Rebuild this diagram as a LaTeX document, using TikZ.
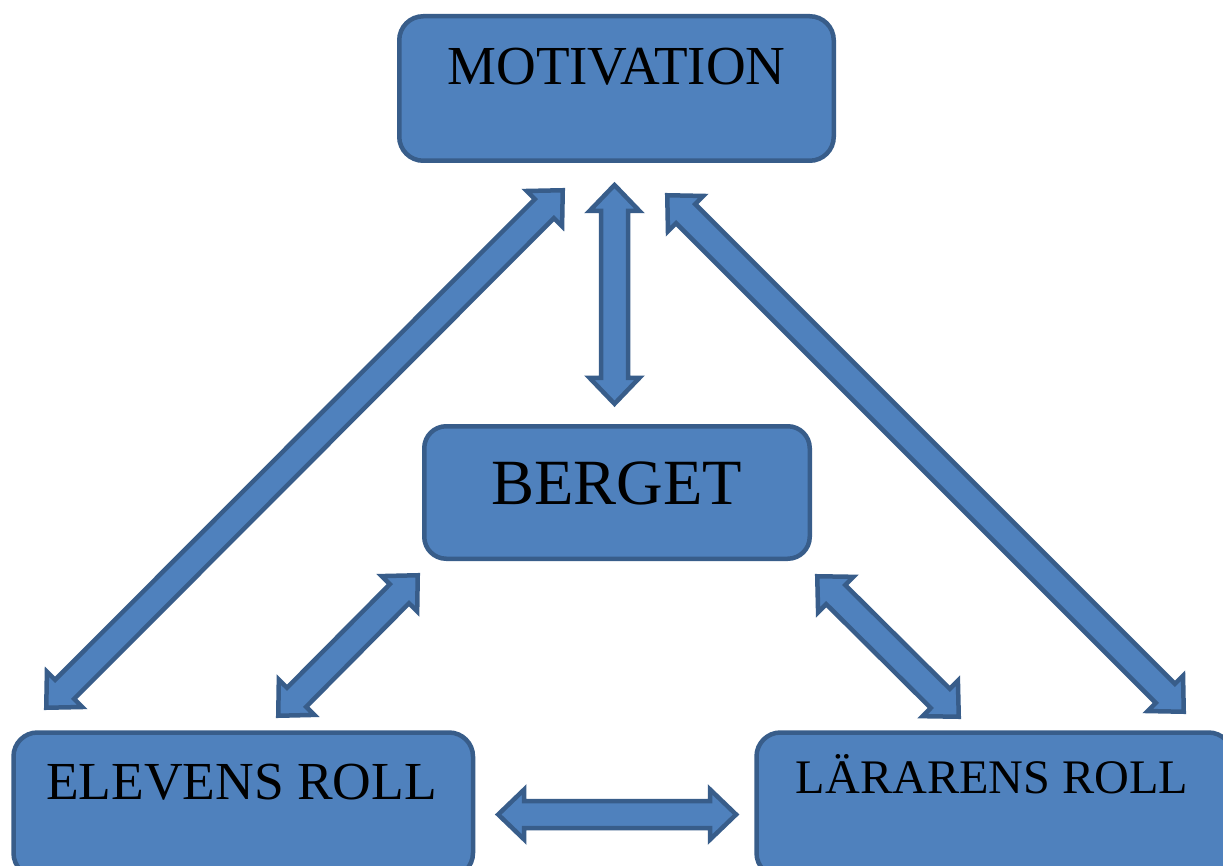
\documentclass[tikz,border=0pt]{standalone}
\usepackage{fontspec}
\setmainfont{Liberation Serif}
\usetikzlibrary{calc}
\definecolor{boxfill}{HTML}{4F81BD}
\definecolor{boxline}{HTML}{385D8A}
\tikzset{
  rbox/.style={draw=boxline, fill=boxfill, line width=4.5pt, rounded corners=24pt, inner sep=0pt, rectangle},
  lbl/.style={inner sep=0pt, anchor=base, text=black},
  barrow/.style={draw=boxline, fill=boxfill, line width=4.5pt, line join=miter, miter limit=10}
}
% double block arrow between two named tips
\newcommand\blockarrow[2]{%
  \draw[barrow] (#1)
   -- ($($(#1)!26pt!(#2)$)!25pt!90:(#2)$)
   -- ($($(#1)!26pt!(#2)$)!13.5pt!90:(#2)$)
   -- ($($(#2)!26pt!(#1)$)!13.5pt!-90:(#1)$)
   -- ($($(#2)!26pt!(#1)$)!25pt!-90:(#1)$)
   -- (#2)
   -- ($($(#2)!26pt!(#1)$)!25pt!90:(#1)$)
   -- ($($(#2)!26pt!(#1)$)!13.5pt!90:(#1)$)
   -- ($($(#1)!26pt!(#2)$)!13.5pt!-90:(#2)$)
   -- ($($(#1)!26pt!(#2)$)!25pt!-90:(#2)$)
   -- cycle;}
\begin{document}
\begin{tikzpicture}[x=1pt,y=-1pt]
\useasboundingbox (0,0) rectangle (1223,866);
\clip (0,0) rectangle (1223,866);
\fill[white] (0,0) rectangle (1223,866);

% boxes
\node[rbox, minimum width=434.5pt, minimum height=144.5pt] (mot) at (616.5,88.5) {};
\node[rbox, minimum width=385.5pt, minimum height=132.5pt, rounded corners=22pt] (berg) at (617,492.5) {};
\node[rbox, minimum width=459.5pt, minimum height=144.5pt, anchor=north west] (elev) at (11.25,730.25) {};
\node[rbox, minimum width=476pt, minimum height=144.5pt, anchor=north west] (lar) at (754.25,730.25) {};

% labels
\node[lbl, font=\fontsize{55}{62}\selectfont] (motT) at (616.5,85) {MOTIVATION};
\node[lbl, font=\fontsize{64.5}{72}\selectfont] (bergT) at (616.5,504) {BERGET};
\node[lbl, font=\fontsize{53.5}{60}\selectfont] (elevT) at (241.5,799) {ELEVENS ROLL};
\node[lbl, font=\fontsize{48.2}{54}\selectfont] (larT) at (992,793) {LÄRARENS ROLL};

% arrow tips
\coordinate (v1) at (614.5,185);
\coordinate (v2) at (614.5,403.8);
\coordinate (h1) at (498.2,814.5);
\coordinate (h2) at (736.1,814.5);
\coordinate (l1) at (46.25,707.75);
\coordinate (l2) at (562.75,190.25);
\coordinate (r1) at (667.25,195.25);
\coordinate (r2) at (1183.75,711.75);
\coordinate (sl1) at (417.75,575.25);
\coordinate (sl2) at (278.25,715.75);
\coordinate (sr1) at (817.25,576.25);
\coordinate (sr2) at (958.75,716.75);

\blockarrow{v1}{v2}
\blockarrow{h1}{h2}
\blockarrow{l1}{l2}
\blockarrow{r1}{r2}
\blockarrow{sl1}{sl2}
\blockarrow{sr1}{sr2}
\end{tikzpicture}
\end{document}
